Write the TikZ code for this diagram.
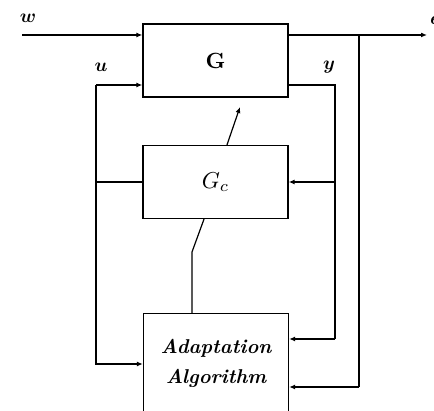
\documentclass[tikz,border=0pt]{standalone}
\usepackage{amsmath}
\usetikzlibrary{arrows.meta,calc}
\begin{document}
\begin{tikzpicture}[x=1pt,y=-1pt,
  blk/.style={draw,line width=1.3pt,minimum width=145pt,minimum height=73pt,inner sep=0pt},
  ln/.style={line width=1.2pt},
  arr/.style={ln,-{Latex[length=6pt,width=5pt]}},
  lbl/.style={font=\boldmath}]
\useasboundingbox (0,0) rectangle (434,411);
\begin{scope}
\clip (0,0) rectangle (434,411);
\node[blk] (G) at (215.5,60.5) {\scalebox{2.2}{$\mathbf{G}$}};
\node[blk] (Gc) at (215.5,182) {\scalebox{2.3}{$G_c$}};
\node[blk,minimum height=127pt,anchor=north] (A) at (216,313) {};
\node[font=\fontsize{20}{30}\selectfont\bfseries\itshape,align=center] (At) at (216,363) {Adaptation\\Algorithm};

\node[lbl] (lw) at (28,18) {\scalebox{1.9}{$w$}};
\node[lbl] (lu) at (101,67) {\scalebox{1.9}{$u$}};
\node[lbl] (ly) at (329,67) {\scalebox{1.9}{$y$}};
\node[lbl,anchor=west,inner sep=0pt] (le) at (430,20) {\scalebox{1.9}{$e$}};

\coordinate (wst) at (22,35);
\coordinate (out) at (427,35);
\coordinate (e1) at (359,35);
\coordinate (e2) at (359,387);
\coordinate (u1) at (96,85);
\coordinate (u2) at (96,364);
\coordinate (y1) at (335,85);
\coordinate (y2) at (335,339);
\coordinate (gt) at (240,107);
\coordinate (k1) at (192,252);

\draw[arr] (wst) -- (wst -| G.west);
\draw[arr] (out -| G.east) -- (out);
\draw[ln] (e1) -- (e2);
\draw[arr] (e2) -- (e2 -| A.east);

\draw[arr] (u1) -- (u1 -| G.west);
\draw[arr] (u1) -- (u2) -- (u2 -| A.west);
\draw[ln] (Gc.west) -- (Gc.west -| u1);

\draw[ln] (y1 -| G.east) -- (y1) -- (y2);
\draw[arr] (y2) -- (y2 -| A.east);
\draw[arr] (Gc.east -| y1) -- (Gc.east);

\draw[arr] ($(Gc.north)+(11.5,0)$) -- (gt);
\draw[ln] ($(Gc.south)+(-11.5,0)$) -- (k1) -- (k1 |- A.north);
\end{scope}
\end{tikzpicture}
\end{document}
